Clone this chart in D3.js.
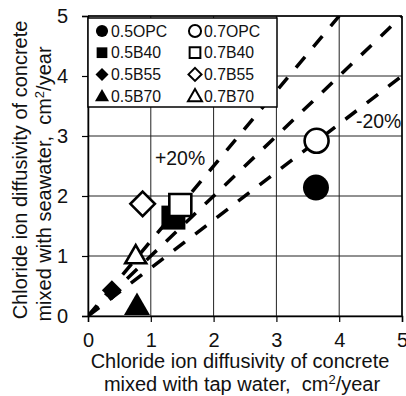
<!DOCTYPE html>
<html>
<head>
<meta charset="utf-8">
<script src="https://cdn.jsdelivr.net/npm/d3@7"></script>
<style>
  html, body { margin: 0; padding: 0; background: #fff; }
  svg { display: block; font-family: "Liberation Sans", Arial, sans-serif; }
</style>
</head>
<body>
<svg id="chart" width="406" height="396"></svg>
<script>
// Mixes (w/c ratio + binder), tap-water vs seawater diffusivity (cm²/year)
const mixes      = ["0.5OPC", "0.7OPC", "0.5B40", "0.7B40", "0.5B55", "0.7B55", "0.5B70", "0.7B70"];
const tapWater   = [3.63, 3.64, 1.36, 1.47, 0.38, 0.87, 0.78, 0.76];
const seaWater   = [2.14, 2.92, 1.64, 1.85, 0.43, 1.87, 0.14, 0.98];
const shapes     = ["circle", "circle", "square", "square", "diamond", "diamond", "triangle", "triangle"];
const filled     = [true, false, true, false, true, false, true, false];
const tickValues = [0, 1, 2, 3, 4, 5];
// reference lines: +20% (x = 0.8y), 1:1, -20% (y = 0.8x)
const refSlopes  = [1 / 0.8, 1, 0.8];

const svg = d3.select("#chart");
const margin = { left: 88, right: 4, top: 16, bottom: 80 };
const W = 406, H = 396;

const x = d3.scaleLinear().domain([0, 5]).range([margin.left, W - margin.right]);
const y = d3.scaleLinear().domain([0, 5]).range([H - margin.bottom, margin.top]);

// diamond = square turned 45°
const diamondSym = {
  draw(ctx, size) {
    const r = Math.sqrt(size / 2);
    ctx.moveTo(0, -r); ctx.lineTo(r, 0); ctx.lineTo(0, r); ctx.lineTo(-r, 0); ctx.closePath();
  }
};
const symbolType = { circle: d3.symbolCircle, square: d3.symbolSquare, diamond: diamondSym, triangle: d3.symbolTriangle };

// grid
const grid = svg.append("g").attr("stroke", "#222").attr("stroke-width", 1);
tickValues.forEach(v => {
  grid.append("line").attr("x1", x(v)).attr("x2", x(v)).attr("y1", y(0)).attr("y2", y(5));
  grid.append("line").attr("x1", x(0)).attr("x2", x(5)).attr("y1", y(v)).attr("y2", y(v));
});

// axes
const xAxis = svg.append("g").attr("transform", `translate(0,${y(0)})`)
  .call(d3.axisBottom(x).tickValues(tickValues).tickFormat(d3.format("d")).tickSize(6).tickPadding(11));
const yAxis = svg.append("g").attr("transform", `translate(${x(0)},0)`)
  .call(d3.axisLeft(y).tickValues(tickValues).tickFormat(d3.format("d")).tickSize(6).tickPadding(14));
[xAxis, yAxis].forEach(a => {
  a.select(".domain").attr("stroke", "#000").attr("stroke-width", 1.5);
  a.selectAll(".tick line").attr("stroke", "#000").attr("stroke-width", 1.2);
  a.selectAll(".tick text").attr("font-size", 20).attr("fill", "#111")
    .attr("font-family", "Liberation Sans, Arial, sans-serif");
});

// right and top frame
svg.append("line").attr("x1", x(5)).attr("x2", x(5)).attr("y1", y(0)).attr("y2", y(5)).attr("stroke", "#000").attr("stroke-width", 1.5);
svg.append("line").attr("x1", x(0)).attr("x2", x(5)).attr("y1", y(5)).attr("y2", y(5)).attr("stroke", "#000").attr("stroke-width", 1.5);

// dashed reference lines, clipped to the plot area
svg.append("clipPath").attr("id", "plotClip").append("rect")
  .attr("x", x(0)).attr("y", y(5)).attr("width", x(5) - x(0)).attr("height", y(0) - y(5));
const refs = svg.append("g").attr("clip-path", "url(#plotClip)");
refSlopes.forEach(s => {
  const xEnd = Math.min(5, 5 / s);
  refs.append("line")
    .attr("x1", x(0)).attr("y1", y(0))
    .attr("x2", x(xEnd)).attr("y2", y(xEnd * s))
    .attr("stroke", "#000").attr("stroke-width", 3.5)
    .attr("stroke-dasharray", "14,13");
});

// data points
const symSize = [531, 452, 576, 484, 200, 300, 292, 191];
const pts = svg.append("g");
mixes.forEach((m, i) => {
  pts.append("path")
    .attr("d", d3.symbol().type(symbolType[shapes[i]]).size(symSize[i])())
    .attr("transform", `translate(${x(tapWater[i])},${y(seaWater[i])})`)
    .attr("fill", filled[i] ? "#000" : "#fff")
    .attr("stroke", "#000").attr("stroke-width", filled[i] ? 0 : 2.6)
    .attr("stroke-linejoin", "miter");
});

// annotations
svg.append("text").attr("x", 155).attr("y", 165).attr("font-size", 19.4).attr("fill", "#111").text("+20%");
svg.append("text").attr("x", 356).attr("y", 128).attr("font-size", 19.4).attr("fill", "#111").text("-20%");

// legend
const leg = svg.append("g");
leg.append("rect").attr("x", x(0)).attr("y", 18).attr("width", 189).attr("height", 89)
  .attr("fill", "#fff").attr("stroke", "#000").attr("stroke-width", 1.5);
const legSize = { circle: 115, square: 115, diamond: 85, triangle: 85 };
mixes.forEach((m, i) => {
  const col = i % 2, row = Math.floor(i / 2);
  const mx = col === 0 ? 102 : 195, my = 31 + row * 21.7;
  leg.append("path")
    .attr("d", d3.symbol().type(symbolType[shapes[i]]).size(legSize[shapes[i]])())
    .attr("transform", `translate(${mx},${my + (shapes[i] === "triangle" ? 1 : 0)})`)
    .attr("fill", filled[i] ? "#000" : "#fff")
    .attr("stroke", "#000").attr("stroke-width", filled[i] ? 0 : 2);
  leg.append("text").attr("x", mx + 9).attr("y", my).attr("dy", "0.36em")
    .attr("font-size", 15.8).attr("fill", "#111").text(m);
});

// axis titles
const xt = svg.append("text").attr("text-anchor", "middle").attr("font-size", 20).attr("fill", "#111");
xt.append("tspan").attr("x", 240).attr("y", 368).text("Chloride ion diffusivity of concrete");
const xt2 = xt.append("tspan").attr("x", 242).attr("y", 391);
xt2.append("tspan").text("mixed with tap water,\u00a0 cm");
xt2.append("tspan").attr("font-size", 13).attr("dy", -7).text("2");
xt2.append("tspan").attr("dy", 7).text("/year");

const yt = svg.append("text").attr("text-anchor", "middle").attr("font-size", 20).attr("fill", "#111")
  .attr("transform", "translate(0,170) rotate(-90)");
yt.append("tspan").attr("x", 0).attr("y", 27).text("Chloride ion diffusivity of concrete");
const yt2 = yt.append("tspan").attr("x", -14).attr("y", 51);
yt2.append("tspan").text("mixed with seawater,\u00a0 cm");
yt2.append("tspan").attr("font-size", 13).attr("dy", -7).text("2");
yt2.append("tspan").attr("dy", 7).text("/year");
</script>
</body>
</html>
